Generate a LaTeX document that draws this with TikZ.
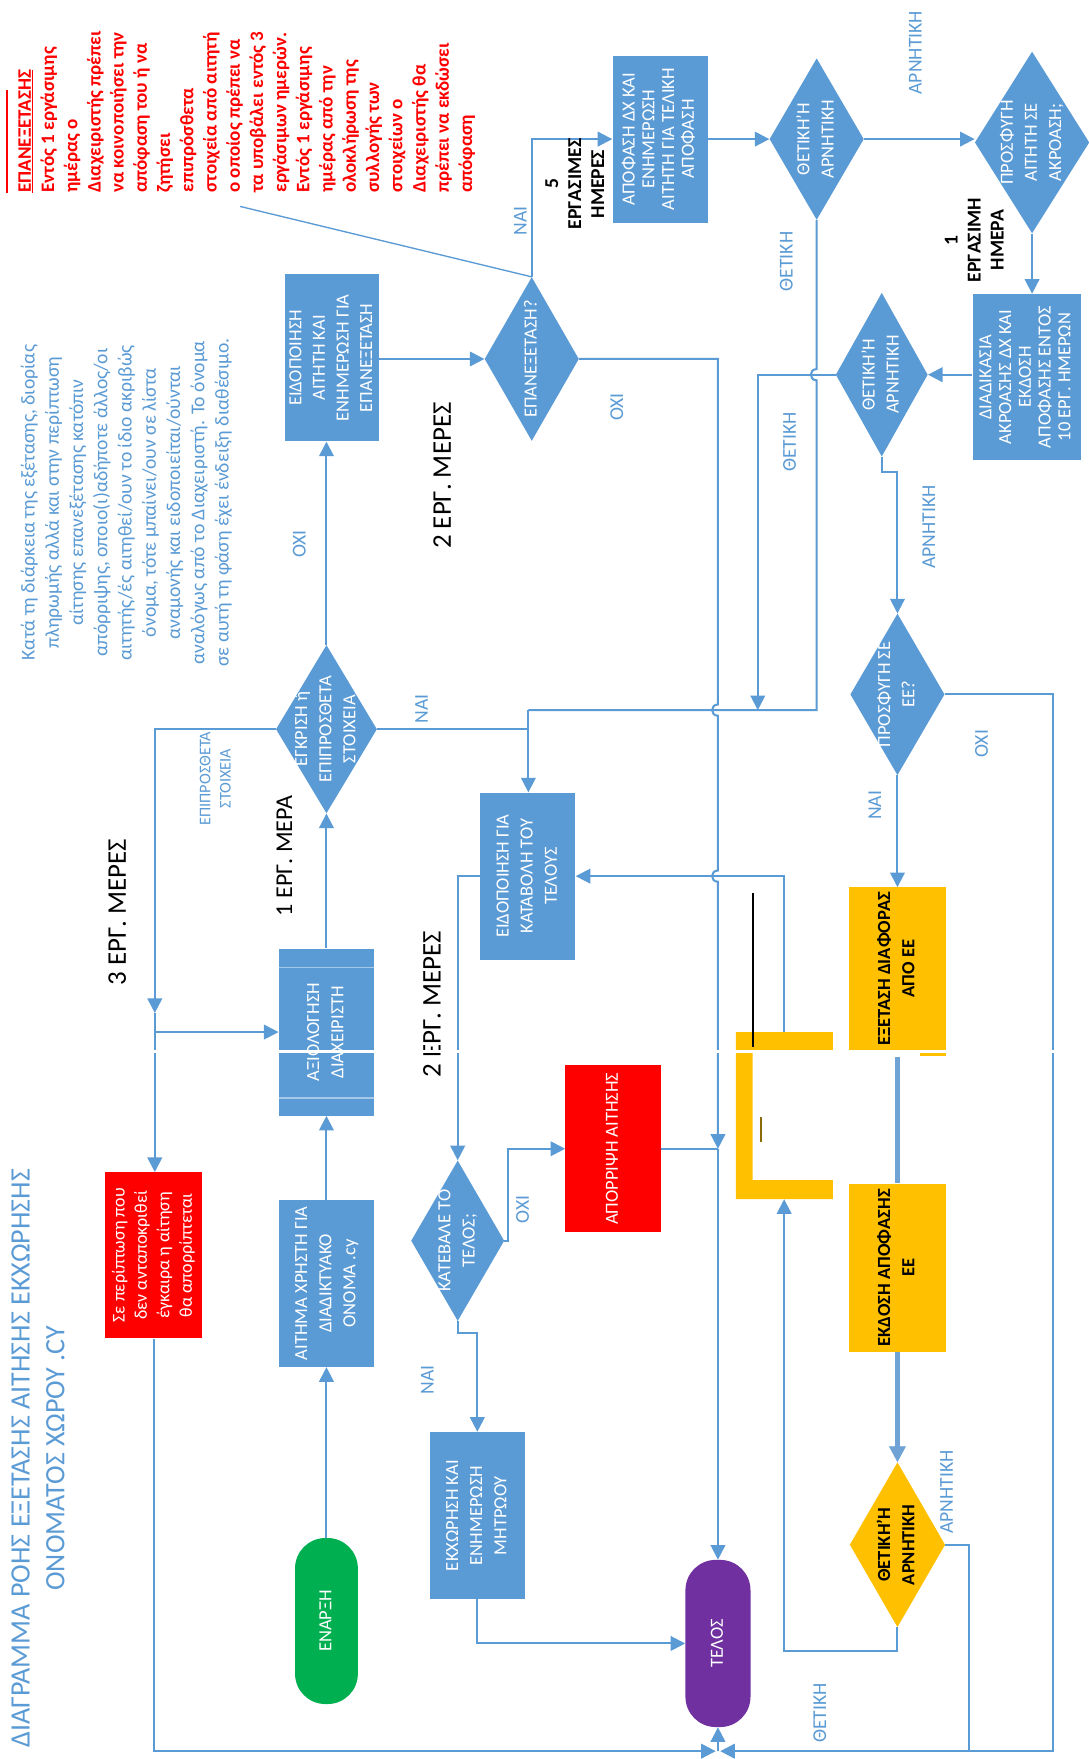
\documentclass[tikz,border=0pt]{standalone}
\usepackage{fontspec}
\setmainfont{Carlito}
\usepackage{graphicx}
\usetikzlibrary{shapes.geometric,arrows.meta,calc}

\definecolor{boxblue}{HTML}{5B9BD5}
\definecolor{lineblue}{HTML}{5B9BD5}
\definecolor{thickblue}{HTML}{70A3D5}
\definecolor{amber}{HTML}{FFC000}
\definecolor{startgreen}{HTML}{00B050}
\definecolor{endpurple}{HTML}{7030A0}
\definecolor{alertred}{HTML}{FF0000}
\definecolor{cursorgold}{HTML}{8C6A0A}

% rotated text, centred, of zero size
\newcommand{\vtext}[1]{\makebox[0pt]{\raisebox{-0.5\height}[0pt][0pt]{\rotatebox{90}{\begin{tabular}{@{}c@{}}#1\end{tabular}}}}}
\newcommand{\boxfont}{\fontsize{16.5}{21.5}\selectfont}
\newcommand{\tightfont}{\fontsize{16.5}{17.6}\selectfont}

\tikzset{
  proc/.style={rectangle, fill=boxblue, text=white, inner sep=0pt,
    minimum width=85pt, minimum height=149pt, font=\boxfont},
  ybox/.style={proc, fill=amber, text=black, minimum width=86pt, font=\boxfont\bfseries},
  redbox/.style={proc, fill=alertred},
  decision/.style={diamond, fill=boxblue, text=white, inner sep=0pt,
    minimum width=84pt, minimum height=144pt, font=\boxfont},
  ydecision/.style={decision, fill=amber, text=black, font=\boxfont\bfseries},
  terminal/.style={rectangle, rounded corners=27pt, inner sep=0pt, text=white,
    minimum width=56pt, minimum height=148pt, font=\boxfont},
  lbl/.style={text=boxblue, inner sep=0pt, font=\fontsize{17.5}{17.5}\selectfont},
  daylbl/.style={text=black, inner sep=0pt, font=\fontsize{24}{24}\selectfont},
  daybold/.style={text=black, inner sep=0pt, font=\fontsize{17.5}{20.5}\selectfont\bfseries},
  line/.style={draw=lineblue, line width=1.8pt},
  flow/.style={line, -{Triangle[length=13pt,width=13pt]}},
  thickline/.style={draw=thickblue, line width=5pt},
  thickflow/.style={thickline, -{Triangle[length=14pt,width=15pt,line width=0.5pt]}},
  subline/.style={draw=white!45!boxblue, line width=1.2pt},
}

\begin{document}
\begin{tikzpicture}[x=1pt,y=-1pt]
\path[use as bounding box, fill=white] (0,0) rectangle (970,1568);

% title and notes
\node[text=boxblue, inner sep=0pt, font=\fontsize{25}{31}\selectfont] (title) at (35.6,1300)
  {\vtext{ΔΙΑΓΡΑΜΜΑ ΡΟΗΣ ΕΞΕΤΑΣΗΣ ΑΙΤΗΣΗΣ ΕΚΧΩΡΗΣΗΣ\\ΟΝΟΜΑΤΟΣ ΧΩΡΟΥ .CY}};
\node[text=boxblue, inner sep=0pt, font=\fontsize{17.5}{21.6}\selectfont] (waitnote) at (113,448)
  {\vtext{Κατά τη διάρκεια της εξέτασης, διορίας\\πληρωμής αλλά και στην περίπτωση\\αίτησης επανεξέτασης κατόπιν\\απόρριψης, οποιο(ι)αδήποτε άλλος/οι\\αιτητής/ές αιτηθεί/ουν το ίδιο ακριβώς\\όνομα, τότε μπαίνει/ουν σε λίστα\\αναμονής και ειδοποιείται/ούνται\\αναλόγως από το Διαχειριστή. Το όνομα\\σε αυτή τη φάση έχει ένδειξη διαθέσιμο.}};
\node[text=alertred, anchor=south, inner sep=0pt, font=\fontsize{17}{20.7}\selectfont\bfseries] (reviewnote) at (220,172)
  {\rotatebox{90}{\begin{tabular}{@{}l@{}}\underline{ΕΠΑΝΕΞΕΤΑΣΗΣ}\\Εντός 1 εργάσιμης\\ημέρας ο\\Διαχειριστής πρέπει\\να κοινοποιήσει την\\απόφαση του ή να\\ζητήσει\\επιπρόσθετα\\στοιχεία από αιτητή\\ο οποίος πρέπει να\\τα υποβάλει εντός 3\\εργάσιμων ημερών.\\Εντός 1 εργάσιμης\\ημέρας από την\\ολοκλήρωση της\\συλλογής των\\στοιχείων ο\\Διαχειριστής  θα\\πρέπει να εκδώσει\\απόφαση\end{tabular}}};
\draw[alertred, line width=1.5pt] (6,80) -- (6,172);

% main column
\node[terminal, fill=startgreen] (start) at (291,1445) {\vtext{ΕΝΑΡΞΗ}};
\node[proc] (request) at (291,1144) {\vtext{ΑΙΤΗΜΑ ΧΡΗΣΤΗ ΓΙΑ\\ΔΙΑΔΙΚΤΥΑΚΟ\\ΟΝΟΜΑ .cy}};
\node[proc] (eval) at (291,920) {\vtext{ΑΞΙΟΛΟΓΗΣΗ\\ΔΙΑΧΕΙΡΙΣΤΗ}};
\draw[subline] ([yshift=-17pt]eval.north west) -- ([yshift=-17pt]eval.north east);
\draw[subline] ([yshift=16pt]eval.south west) -- ([yshift=16pt]eval.south east);
\node[decision, minimum width=90pt, minimum height=150pt] (approve) at (291,650) {\vtext{ΕΓΚΡΙΣΗ ή\\ΕΠΙΠΡΟΣΘΕΤΑ\\ΣΤΟΙΧΕΙΑ}};
\node[proc, minimum width=84pt, font=\fontsize{16.5}{21}\selectfont] (notify) at (296,319) {\vtext{ΕΙΔΟΠΟΙΗΣΗ\\ΑΙΤΗΤΗ ΚΑΙ\\ΕΝΗΜΕΡΩΣΗ ΓΙΑ\\ΕΠΑΝΕΞΕΤΑΣΗ}};
\node[decision, minimum height=146pt] (review) at (474,320) {\vtext{ΕΠΑΝΕΞΕΤΑΣΗ?}};
\node[redbox, minimum width=86pt, minimum height=148pt, font=\fontsize{16}{20}\selectfont] (timeout) at (137,1119) {\vtext{Σε περίπτωση που\\δεν ανταποκριθεί\\έγκαιρα η αίτηση\\θα απορρίπτεται}};

% fee branch
\node[proc] (fee) at (470.5,781) {\vtext{ΕΙΔΟΠΟΙΗΣΗ ΓΙΑ\\ΚΑΤΑΒΟΛΗ ΤΟΥ\\ΤΕΛΟΥΣ}};
\node[decision, minimum width=83pt, minimum height=143pt] (paid) at (408,1106) {\vtext{ΚΑΤΕΒΑΛΕ ΤΟ\\ΤΕΛΟΣ;}};
\node[redbox] (reject) at (546.5,1024) {\vtext{ΑΠΟΡΡΙΨΗ ΑΙΤΗΣΗΣ}};
\node[proc] (register) at (425.5,1351) {\vtext{ΕΚΧΩΡΗΣΗ ΚΑΙ\\ΕΝΗΜΕΡΩΣΗ\\ΜΗΤΡΩΟΥ}};
\node[terminal, fill=endpurple, minimum width=58pt, minimum height=149pt] (end) at (640,1465) {\vtext{ΤΕΛΟΣ}};

% review branch
\node[proc, font=\tightfont] (decide) at (588.5,124) {\vtext{ΑΠΟΦΑΣΗ ΔΧ ΚΑΙ\\ΕΝΗΜΕΡΩΣΗ\\ΑΙΤΗΤΗ ΓΙΑ ΤΕΛΙΚΗ\\ΑΠΟΦΑΣΗ}};
\node[decision] (verdict) at (728,124) {\vtext{ΘΕΤΙΚΗ'Η\\ΑΡΝΗΤΙΚΗ}};
\node[decision, minimum width=102pt, minimum height=162pt] (hearask) at (920,127) {\vtext{ΠΡΟΣΦΥΓΗ\\ΑΙΤΗΤΗ ΣΕ\\ΑΚΡΟΑΣΗ;}};
\node[proc, minimum width=97pt, minimum height=148pt, font=\tightfont] (hearing) at (915.5,336) {\vtext{ΔΙΑΔΙΚΑΣΙΑ\\ΑΚΡΟΑΣΗΣ ΔΧ ΚΑΙ\\ΕΚΔΟΣΗ\\ΑΠΟΦΑΣΗΣ ΕΝΤΟΣ\\10 ΕΡΓ. ΗΜΕΡΩΝ}};
\node[decision, minimum width=82pt, minimum height=146pt] (verdict2) at (786,334) {\vtext{ΘΕΤΙΚΗ'Η\\ΑΡΝΗΤΙΚΗ}};
\node[decision] (appealee) at (800,619) {\vtext{ΠΡΟΣΦΥΓΗ ΣΕ\\ΕΕ?}};
\node[ybox, minimum height=145pt] (examee) at (800,863.5) {\vtext{ΕΞΕΤΑΣΗ ΔΙΑΦΟΡΑΣ\\ΑΠΟ ΕΕ}};
\node[ybox, minimum height=150pt] (issueee) at (800,1130) {\vtext{ΕΚΔΟΣΗ ΑΠΟΦΑΣΗΣ\\ΕΕ}};
\node[ydecision, minimum width=85pt, minimum height=147pt] (verdict3) at (800,1377) {\vtext{ΘΕΤΙΚΗ'Η\\ΑΡΝΗΤΙΚΗ}};

% broken yellow shape
\fill[amber] (656,920) -- (742.5,920) -- (742.5,936) -- (671,936) -- (671,1052)
  -- (742.5,1052) -- (742.5,1069) -- (656,1069) -- cycle;
\draw[black, line width=2pt] (671.3,796) -- (671.3,933);
\draw[cursorgold, line width=1.6pt] (678.5,996) -- (678.5,1018);
\coordinate (brtop) at (699,920);
\coordinate (brbot) at (699,1069);

% junction points
\coordinate (addl) at (138,920);
\coordinate (posjoin) at (471,633);
\coordinate (posjoin3) at (675.5,633);
\coordinate (nojoin) at (640,1024);
\coordinate (sink) at (640,1561);
\coordinate (bottomR) at (939,1561);
\coordinate (negjoin) at (864,1561);
\coordinate (negbend) at (786,421);
\coordinate (yesbend) at (408,1188);
\coordinate (callout) at (214,184);

% connectors, main column
\draw[flow] (start) -- (request);
\draw[flow] (request) -- (eval);
\draw[flow] (eval) -- (approve);
\draw[flow] (approve.north) -- (approve.north |- notify.south);
\draw[flow] (approve.west) -| ($(addl)+(0,-17)$);
\draw[line] ($(addl)+(0,-17)$) -- (addl);
\draw[flow] (addl) -- (addl -| eval.west);
\draw[flow] (addl) -- (addl |- timeout.north);
\draw[line] (approve.east) -- (approve.east -| posjoin);
\draw[flow] (posjoin) -- (posjoin |- fee.north);
\draw[flow] (notify.east |- review.west) -- (review.west);
\draw[flow] (review.north) |- (decide.west);
\draw[lineblue, line width=1.2pt] (review.north) -- (callout);
\draw[flow] (review.east) -| (640,628) .. controls (633,628) and (633,638) .. (640,638)
  -- (640,776) .. controls (633,776) and (633,786) .. (640,786) -- (nojoin);
\draw[line] (reject.east) -- (nojoin);
\draw[flow] (nojoin) -- (nojoin |- end.north);

% connectors, fee branch
\draw[flow] (fee.west) -| (paid.north);
\draw[flow] (paid.east) -- ++(3,0) |- (reject.west);
\draw[flow] (paid.south) -- (yesbend) -| (register.north);
\draw[flow] (register.south) |- (end.west);
\draw[flow] (timeout.south) |- ($(sink)+(-2,0)$);
\draw[flow] (sink) -- (end.south);

% connectors, review branch
\draw[flow] (decide) -- (verdict);
\draw[flow] (verdict.east) -- (verdict.east -| hearask.west);
\draw[line] (verdict.south) -- (728,329) .. controls (721,329) and (721,339) .. (728,339) |- (posjoin);
\draw[flow] (hearask.south) -- (hearask.south |- hearing.north);
\draw[flow] (hearing.west |- verdict2.east) -- (verdict2.east);
\draw[flow] (verdict2.west) -| (posjoin3);
\draw[flow] (verdict2.south) -- (negbend) -| (appealee.north);
\draw[flow] (appealee.south) -- (examee.north);
\draw[flow] (appealee.east) -| (bottomR) -- ($(sink)+(2,0)$);
\draw[thickline] ([yshift=-6pt]examee.south) -- (issueee.north);
\draw[thickflow] (issueee.south) -- (verdict3.north);
\draw[line] (verdict3.east) -| (negjoin);
\draw[flow] (verdict3.south) -- (800,1472) -| (brbot);
\draw[flow] (brtop) |- (fee.east);

% labels
\node[lbl] (yes1) at (378,632) {\vtext{ΝΑΙ}};
\node[lbl] (yes2) at (466,197) {\vtext{ΝΑΙ}};
\node[lbl] (yes3) at (383,1230) {\vtext{ΝΑΙ}};
\node[lbl] (yes4) at (782,718) {\vtext{ΝΑΙ}};
\node[lbl] (no1) at (269,485) {\vtext{ΟΧΙ}};
\node[lbl] (no2) at (552,363) {\vtext{ΟΧΙ}};
\node[lbl] (no3) at (468,1078) {\vtext{ΟΧΙ}};
\node[lbl] (no4) at (877,663) {\vtext{ΟΧΙ}};
\node[lbl] (pos1) at (703,233) {\vtext{ΘΕΤΙΚΗ}};
\node[lbl] (pos2) at (706,394) {\vtext{ΘΕΤΙΚΗ}};
\node[lbl] (pos3) at (733,1527) {\vtext{ΘΕΤΙΚΗ}};
\node[lbl] (neg1) at (818,47) {\vtext{ΑΡΝΗΤΙΚΗ}};
\node[lbl] (neg2) at (830,470) {\vtext{ΑΡΝΗΤΙΚΗ}};
\node[lbl] (neg3) at (846,1330) {\vtext{ΑΡΝΗΤΙΚΗ}};
\node[lbl, font=\fontsize{14.5}{18}\selectfont] (extra) at (193,694) {\vtext{ΕΠΙΠΡΟΣΘΕΤΑ\\ΣΤΟΙΧΕΙΑ}};
\node[daylbl] (days3) at (107.5,813) {\vtext{3 ΕΡΓ. ΜΕΡΕΣ}};
\node[daylbl, font=\fontsize{21.5}{21.5}\selectfont] (days1) at (256,763) {\vtext{1 ΕΡΓ. ΜΕΡΑ}};
\node[daylbl] (days2a) at (397,424) {\vtext{2 ΕΡΓ. ΜΕΡΕΣ}};
\node[daylbl] (days2b) at (388,895) {\vtext{2 ΕΡΓ. ΜΕΡΕΣ}};
\node[daybold] (days5) at (514,164) {\vtext{5\\ΕΡΓΑΣΙΜΕΣ\\ΗΜΕΡΕΣ}};
\node[daybold] (day1) at (870,214) {\vtext{1\\ΕΡΓΑΣΙΜΗ\\ΗΜΕΡΑ}};

% white seam across the page
\fill[white] (0,935.8) rectangle (970,939);
\fill[amber] (820,939) rectangle (843,941.5);
\end{tikzpicture}
\end{document}
